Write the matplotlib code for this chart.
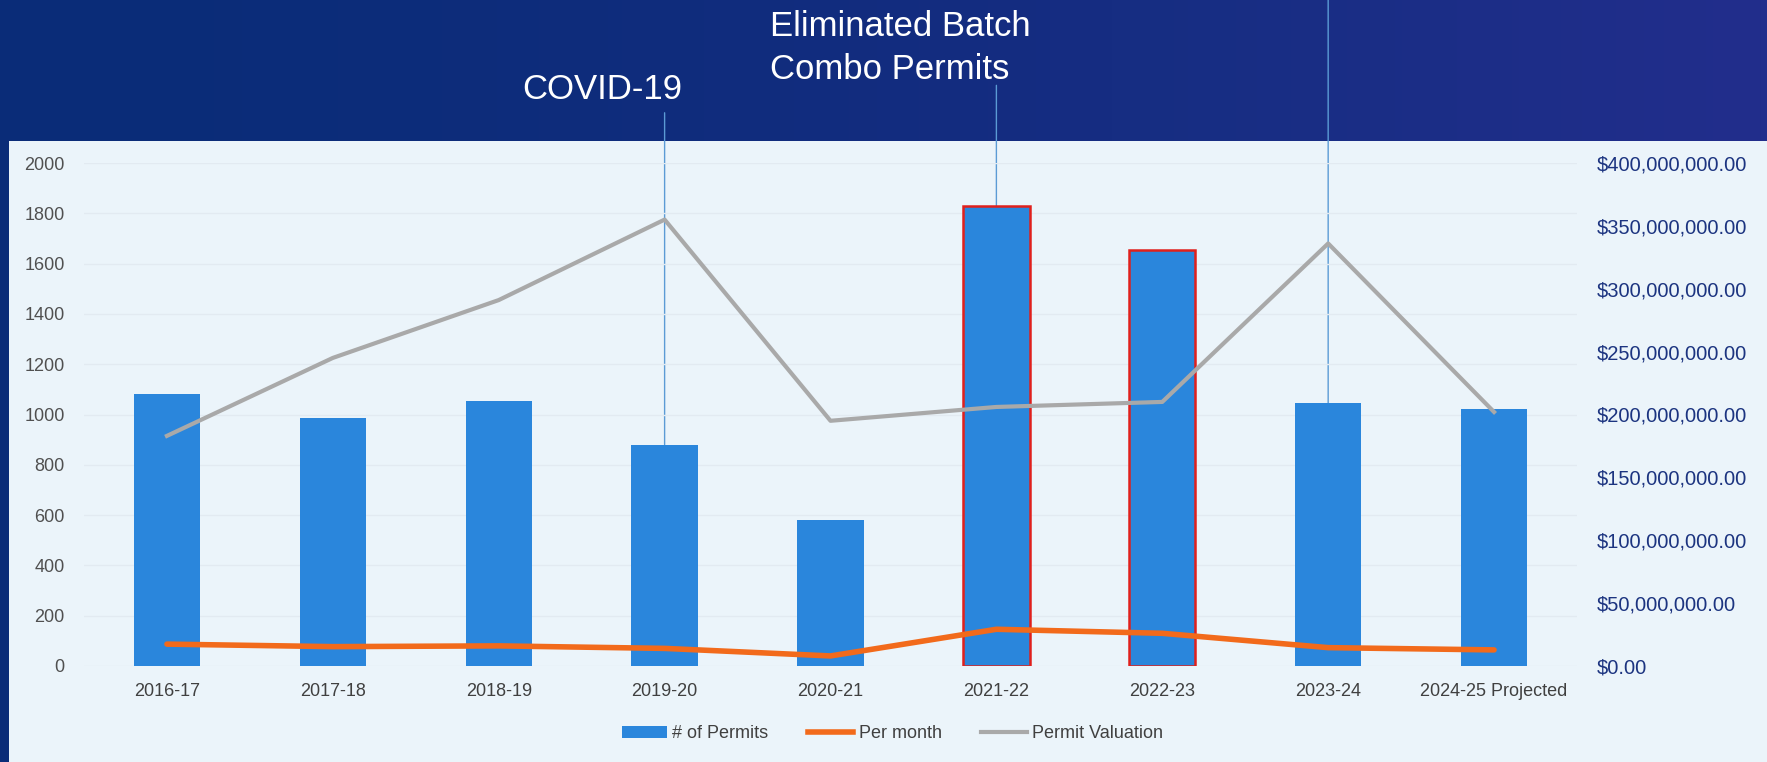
import numpy as np
import matplotlib
matplotlib.use("Agg")
import matplotlib.pyplot as plt
from matplotlib.patches import Rectangle, Patch
from matplotlib.lines import Line2D
from matplotlib.ticker import FuncFormatter, MultipleLocator
import matplotlib.transforms as mtransforms

plt.rcParams['font.family'] = ['Liberation Sans', 'DejaVu Sans']

# ---- data ----
years = ["2016-17", "2017-18", "2018-19", "2019-20", "2020-21",
         "2021-22", "2022-23", "2023-24", "2024-25 Projected"]
permits = [1080, 985, 1055, 880, 580, 1830, 1655, 1045, 1022]
per_month = [87, 77, 80, 70, 40, 146, 130, 73, 64]
valuation = [183e6, 245e6, 291e6, 355e6, 195e6, 206e6, 210e6, 336e6, 202e6]
highlight = ["2021-22", "2022-23"]
annotations = {"2019-20": "COVID-19",
               "2021-22": "Eliminated Batch\nCombo Permits",
               "2023-24": ""}

W, H = 1767, 762
fig = plt.figure(figsize=(W / 100, H / 100), dpi=100)

# background: gradient banner + light panel
bg = fig.add_axes([0, 0, 1, 1], zorder=-10)
bg.set_axis_off()
grad = np.linspace(0, 1, 256)[None, :, None]
c0 = np.array([10, 44, 120]) / 255
c1 = np.array([34, 46, 140]) / 255
img = c0 + (c1 - c0) * grad ** 1.5
bg.imshow(img, aspect='auto', extent=[0, 1, 0, 1], origin='lower')
bg.add_patch(Rectangle((9 / W, 0), 1, 1 - 141 / H, facecolor='#ebf4fa',
                       edgecolor='none', transform=bg.transAxes))
bg.set_xlim(0, 1)
bg.set_ylim(0, 1)

ax = fig.add_axes([84 / W, 96 / H, 1493 / W, 503 / H])
ax.set_facecolor('none')
x = np.arange(len(years))

bar_col = '#2a86dc'
edge = ['#e0201c' if y in highlight else bar_col for y in years]
lw = [1.8 if y in highlight else 0 for y in years]
ax.bar(x, permits, width=0.4, color=bar_col, edgecolor=edge, linewidth=lw, zorder=2)
ax.plot(x, per_month, color='#f26a1b', linewidth=4, solid_capstyle='round', zorder=4)

ax.set_xlim(-0.5, len(years) - 0.5)
ax.set_ylim(0, 2000)
ax.yaxis.set_major_locator(MultipleLocator(200))
ax.grid(axis='y', color='#e2eaf1', linewidth=1, zorder=0)
ax.set_xticks(x)
ax.set_xticklabels(years, fontsize=13, color='#404040')
ax.tick_params(axis='x', length=0, pad=12)
ax.tick_params(axis='y', length=0, pad=14, labelsize=13, labelcolor='#505050')
for s in ax.spines.values():
    s.set_visible(False)

ax2 = ax.twinx()
ax2.plot(x, valuation, color='#a9a9a9', linewidth=3, zorder=3)
ax2.set_ylim(0, 400e6)
ax2.yaxis.set_major_locator(MultipleLocator(50e6))
ax2.yaxis.set_major_formatter(FuncFormatter(lambda v, p: "${:,.2f}".format(v)))
ax2.tick_params(axis='y', length=0, pad=14, labelsize=14.5, labelcolor='#1c3480')
for s in ax2.spines.values():
    s.set_visible(False)

# annotation lines
trans = mtransforms.blended_transform_factory(ax.transData, fig.transFigure)
line_tops = {"2019-20": 0.852, "2021-22": 0.888, "2023-24": 1.0}
for yr, top in line_tops.items():
    i = years.index(yr)
    ax.annotate('', xy=(i, permits[i]), xycoords='data',
                xytext=(i, top), textcoords=trans,
                arrowprops=dict(arrowstyle='-', color='#5b9bd5', linewidth=1,
                                shrinkA=0, shrinkB=0),
                annotation_clip=False, zorder=1)

fig.text(602 / W, 0.882, annotations["2019-20"], color='white', fontsize=25,
         ha='center', va='center')
fig.text(770 / W, 0.937, annotations["2021-22"], color='white', fontsize=25,
         ha='left', va='center', linespacing=1.38)

handles = [Patch(facecolor=bar_col, edgecolor='none'),
           Line2D([], [], color='#f26a1b', linewidth=4),
           Line2D([], [], color='#a9a9a9', linewidth=3)]
labels = ["# of Permits", "Per month", "Permit Valuation"]
fig.legend(handles, labels, loc='center', bbox_to_anchor=(0.505, 0.037),
           ncol=3, frameon=False, fontsize=13, labelcolor='#404040',
           handlelength=2.5, handletextpad=0.3, columnspacing=2.2)

fig.savefig("out.png", dpi=100)
